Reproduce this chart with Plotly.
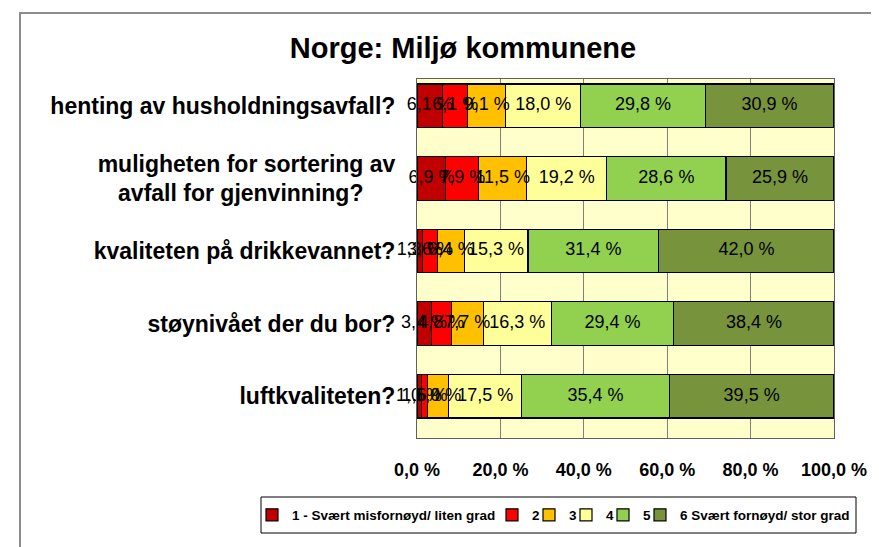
import plotly.graph_objects as go
import numpy as np

categories = [
    "henting av husholdningsavfall?",
    "muligheten for sortering av<br>avfall for gjenvinning?" + "\u00a0" * 5,
    "kvaliteten på drikkevannet?",
    "støynivået der du bor?",
    "luftkvaliteten?",
]
series_names = ["1 - Svært misfornøyd/ liten grad", "2", "3", "4", "5", "6 Svært fornøyd/ stor grad"]
s1 = [6.1, 6.9, 1.3, 3.4, 1.0]
s2 = [6.1, 7.9, 3.6, 4.8, 1.6]
s3 = [9.1, 11.5, 6.4, 7.7, 5.0]
s4 = [18.0, 19.2, 15.3, 16.3, 17.5]
s5 = [29.8, 28.6, 31.4, 29.4, 35.4]
s6 = [30.9, 25.9, 42.0, 38.4, 39.5]
series_values = [s1, s2, s3, s4, s5, s6]
colors = ["#C00000", "#FF0000", "#FFC000", "#FFFF99", "#92D050", "#77933C"]
x_ticks = [0, 20, 40, 60, 80, 100]
x_ticktext = ["0,0 %", "20,0 %", "40,0 %", "60,0 %", "80,0 %", "100,0 %"]

FONT = "Liberation Sans, Arial, sans-serif"
OFF = 8                      # page body margin
W, H = 879 - OFF, 547 - OFF
L = 417 - OFF
R = 879 - 834
T = 79 - OFF
B = H - (438 - OFF)


def cx(px):   # reference pixel -> container fraction
    return (px - OFF) / W


def cy(py):
    return 1 - (py - OFF) / H


def px_to_paper_x(px):
    return (px - OFF - L) / (W - L - R)


def px_to_paper_y(py):
    return (H - B - (py - OFF)) / (H - T - B)


fig = go.Figure()
legend_names = ["legend", "legend2", "legend3", "legend4", "legend5", "legend6"]
for name, vals, col, lg in zip(series_names, series_values, colors, legend_names):
    fig.add_trace(go.Bar(
        y=categories, x=vals, name=name, orientation="h",
        marker=dict(color=col, line=dict(color="black", width=1.2)),
        legend=lg, hoverinfo="skip",
    ))

cum = np.zeros(len(categories))
for vals in series_values:
    v = np.array(vals)
    mid = cum + v / 2
    cum = cum + v
    fig.add_trace(go.Scatter(
        y=categories, x=mid, mode="text",
        text=[f"{x:.1f} %".replace(".", ",") for x in v],
        textfont=dict(family=FONT, size=18, color="black"),
        showlegend=False, cliponaxis=False, hoverinfo="skip",
    ))

# legend symbol centre positions (reference px)
symbol_px = [272.5, 512.5, 549.5, 586.5, 623.5, 660.5]
legend_layout = {}
for lg, sx in zip(legend_names, symbol_px):
    legend_layout[lg] = dict(
        xref="container", yref="container",
        x=cx(sx - 20.5), y=cy(515), xanchor="left", yanchor="middle",
        orientation="h", bgcolor="rgba(0,0,0,0)", borderwidth=0,
        font=dict(family=FONT, size=13.5, color="black", weight="bold"),
        itemclick=False, itemdoubleclick=False,
    )

shapes = [
    dict(type="rect", xref="paper", yref="paper",
         x0=px_to_paper_x(20), x1=px_to_paper_x(900),
         y0=px_to_paper_y(560), y1=px_to_paper_y(13),
         line=dict(color="#8c8c8c", width=2), layer="below"),
    dict(type="rect", xref="paper", yref="paper",
         x0=px_to_paper_x(261), x1=px_to_paper_x(856),
         y0=px_to_paper_y(533), y1=px_to_paper_y(497),
         line=dict(color="black", width=1)),
]

fig.update_layout(
    width=W, height=H, autosize=False,
    margin=dict(l=L, r=R, t=T, b=B, autoexpand=False),
    paper_bgcolor="white", plot_bgcolor="#FFFFCC",
    barmode="stack", bargap=0.4,
    title=dict(text="Norge: Miljø kommunene", xref="container", yref="container",
               x=cx(463), y=cy(48), xanchor="center", yanchor="middle",
               font=dict(family=FONT, size=29, color="black", weight="bold")),
    xaxis=dict(range=[0, 100], tickvals=x_ticks, ticktext=x_ticktext,
               showgrid=True, gridcolor="#808080", gridwidth=1,
               showline=True, linecolor="#606060", linewidth=1, mirror=True,
               zeroline=False, ticks="", ticklabelstandoff=15, automargin=False,
               tickfont=dict(family=FONT, size=18, color="black", weight="bold"),
               fixedrange=True),
    yaxis=dict(categoryorder="array", categoryarray=categories,
               range=[4.577, -0.37], autorange=False,
               showgrid=False, showline=True, linecolor="#606060", linewidth=1, mirror=True,
               ticks="", ticklabelstandoff=16, automargin=False,
               tickfont=dict(family=FONT, size=23, color="black", weight="bold"),
               fixedrange=True),
    shapes=shapes,
    showlegend=True,
    **legend_layout,
)

fig.write_html("out.html")
